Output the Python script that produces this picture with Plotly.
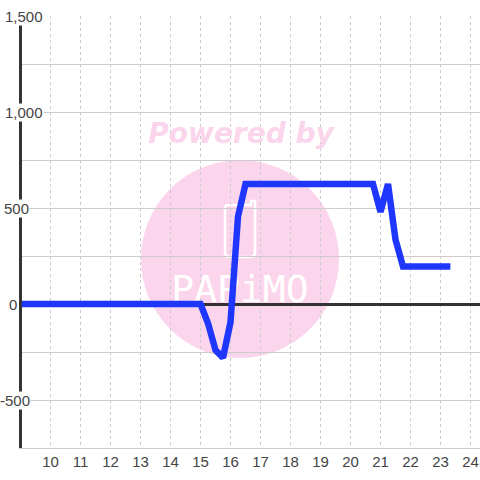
import plotly.graph_objects as go

# Chart data
hours = [8.93, 15, 15.25, 15.5, 15.75, 16, 16.25, 16.5, 20.75, 21, 21.25, 21.5, 21.75, 23.33]
values = [0, 0, -100, -240, -280, -95, 455, 625, 625, 480, 625, 335, 195, 195]
x_ticks = list(range(10, 25))
y_ticks = [1500, 1000, 500, 0, -500]
y_tick_labels = ["1,500", "1,000", "500", "0", "-500"]
y_label_right_px = [44, 44, 30, 18, 31]

W = H = 480
L, R, T, B = 22, 0, 16, 32
XMIN, XMAX = 9.05, 24.3167
YMIN, YMAX = -750, 1500
INK = "#444444"
FONT = "Liberation Sans"
PINK = "#fbd5ec"


def px(v):
    return (v - L) / (W - L - R)


def py(v):
    return 1 - (v - T) / (H - T - B)


def dx(v):
    return XMIN + (v - L) / (W - L - R) * (XMAX - XMIN)


def dy(v):
    return YMAX - (v - T) / (H - T - B) * (YMAX - YMIN)


fig = go.Figure()

# Watermark text, drawn under the data line
fig.add_trace(go.Scatter(
    x=[dx(241)], y=[dy(136)], mode="text", text=["<b><i>Powered by</i></b>"],
    textfont=dict(family="DejaVu Sans", size=28, color=PINK),
    textposition="middle center", hoverinfo="skip", showlegend=False, cliponaxis=False))
fig.add_trace(go.Scatter(
    x=[dx(240)], y=[dy(292)], mode="text", text=["PAPiMO"],
    textfont=dict(family="DejaVu Sans Mono", size=38, color="white"),
    textposition="middle center", hoverinfo="skip", showlegend=False, cliponaxis=False))

# Data line
fig.add_trace(go.Scatter(
    x=hours, y=values, mode="lines",
    line=dict(color="#1f36ff", width=6.5, shape="linear"),
    hoverinfo="skip", showlegend=False, cliponaxis=False))

fig.add_shape(type="circle", xref="paper", yref="paper", layer="below",
              x0=px(141), x1=px(339), y0=py(358), y1=py(160),
              fillcolor=PINK, line_width=0)
icon = (f"M {px(225)} {py(208)} Q {px(225)} {py(205)} {px(228)} {py(205)} "
        f"L {px(251)} {py(205)} L {px(251)} {py(201)} L {px(255)} {py(201)} "
        f"L {px(255)} {py(252)} Q {px(255)} {py(257)} {px(250)} {py(257)} "
        f"L {px(230)} {py(257)} Q {px(225)} {py(257)} {px(225)} {py(252)} Z")
fig.add_shape(type="path", xref="paper", yref="paper", layer="below",
              path=icon, line=dict(color="white", width=2.5), fillcolor="rgba(0,0,0,0)")

annotations = [
    dict(x=px(r), y=v, xref="paper", yref="y", text=t, showarrow=False,
         xanchor="right", yanchor="middle", bgcolor="white", borderpad=0,
         font=dict(family=FONT, size=15, color=INK))
    for v, t, r in zip(y_ticks, y_tick_labels, y_label_right_px)
]

fig.update_layout(
    width=W, height=H, autosize=False,
    margin=dict(l=L, r=R, t=T, b=B, pad=0),
    paper_bgcolor="white", plot_bgcolor="rgba(0,0,0,0)",
    showlegend=False, annotations=annotations,
    font=dict(family=FONT, size=15, color=INK),
    xaxis=dict(range=[XMIN, XMAX], tickmode="array", tickvals=x_ticks,
               ticktext=[str(t) for t in x_ticks], ticks="", showline=True,
               linecolor="#cccccc", linewidth=1, showgrid=True,
               gridcolor="#cccccc", gridwidth=1, griddash="dot", zeroline=False,
               tickfont=dict(family=FONT, size=15, color=INK), ticklabelstandoff=0),
    yaxis=dict(range=[YMIN, YMAX], tick0=0, dtick=250, showticklabels=False,
               ticks="", showline=True, linecolor="#333333", linewidth=3,
               showgrid=True, gridcolor="#cccccc", gridwidth=1,
               zeroline=True, zerolinecolor="#333333", zerolinewidth=3),
)

fig.write_html("out.html", post_script="document.body.style.margin='0';",
               config={"displayModeBar": False})
